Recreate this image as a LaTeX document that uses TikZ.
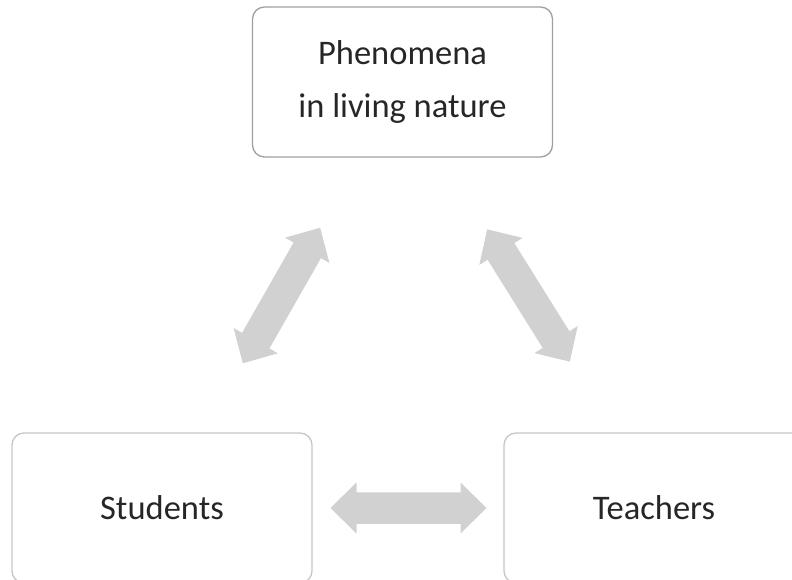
\documentclass[tikz,border=0pt]{standalone}
\usepackage{fontspec}
\setmainfont{Carlito}
\begin{document}
\begin{tikzpicture}[x=1pt,y=-1pt,
  box/.style={draw=#1, line width=1.3pt, rounded corners=12pt,
    minimum width=300pt, minimum height=150pt, inner sep=0pt,
    align=center, font=\fontsize{34.5}{53}\selectfont, text=black!85},
  box/.default={gray!75},
  arrowfill/.style={fill=black!18},
  dblarrow/.pic={
    \fill[arrowfill]
      (-78,0) -- (-52,-25.5) -- (-52,-15.75) -- (52,-15.75) -- (52,-25.5)
      -- (78,0) -- (52,25.5) -- (52,15.75) -- (-52,15.75) -- (-52,25.5) -- cycle;
  }]
  \useasboundingbox (0,0) rectangle (792,580);

  % the three boxes
  \node[box] (nature) at (402.5,82) {Phenomena\\in living nature};
  \node[box=gray!45] (students) at (162,508) {Students};
  \node[box=gray!45] (teachers) at (654,508) {Teachers};

  % two-headed block arrows between them
  \coordinate (ls) at (281.5,295.5);
  \coordinate (rs) at (528.5,295.5);
  \coordinate (bs) at (408.5,508);
  \pic[rotate=60.3] at (ls) {dblarrow};
  \pic[rotate=-58]  at (rs) {dblarrow};
  \pic              at (bs) {dblarrow};
\end{tikzpicture}
\end{document}
